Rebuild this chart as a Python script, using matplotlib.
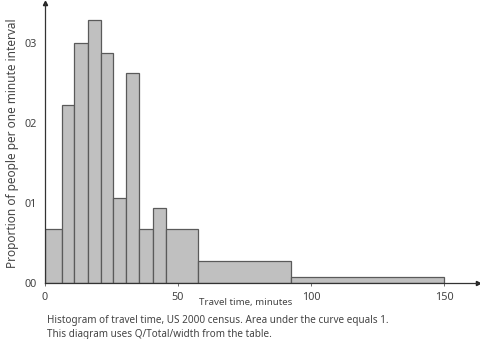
import matplotlib
matplotlib.use("Agg")
import matplotlib.pyplot as plt
from matplotlib.ticker import FixedLocator, FixedFormatter

plt.rcParams['font.family'] = ['Noto Sans', 'DejaVu Sans']

# Interval edges (minutes) and density (proportion per one-minute interval)
bin_edges = [0, 6.5, 11, 16, 21, 25.5, 30.5, 35.5, 40.5, 45.5, 57.5, 92.5, 150]
density = [0.0067, 0.0223, 0.0300, 0.0329, 0.0288, 0.0106, 0.0263,
           0.0067, 0.0094, 0.0067, 0.0028, 0.0008]

x_ticks = [0, 50, 100, 150]
x_tick_labels = ["0", "50", "100", "150"]
y_ticks = [0.0, 0.01, 0.02, 0.03]
y_tick_labels = ["00", "01", "02", "03"]

text_color = "#444444"

fig = plt.figure(figsize=(4.8, 3.39), dpi=100)
ax = fig.add_axes([45 / 480, 56 / 339, 433 / 480, 280 / 339])

lefts = bin_edges[:-1]
widths = [b - a for a, b in zip(bin_edges[:-1], bin_edges[1:])]
ax.bar(lefts, density, width=widths, align="edge", color="#c0c0c0",
       edgecolor="#5a5a5a", linewidth=0.9, zorder=2)

ax.set_xlim(0, 162.8)
ax.set_ylim(0, 0.035)

for s in ["top", "right"]:
    ax.spines[s].set_visible(False)
for s in ["left", "bottom"]:
    ax.spines[s].set_color("#333333")
    ax.spines[s].set_linewidth(0.9)

# arrow heads at the ends of the axes
ax.plot(1, 0, ">", color="#222222", markersize=3, transform=ax.transAxes, clip_on=False)
ax.plot(0, 1, "^", color="#222222", markersize=3, transform=ax.transAxes, clip_on=False)

ax.xaxis.set_major_locator(FixedLocator(x_ticks))
ax.xaxis.set_major_formatter(FixedFormatter(x_tick_labels))
ax.yaxis.set_major_locator(FixedLocator(y_ticks))
ax.yaxis.set_major_formatter(FixedFormatter(y_tick_labels))
ax.tick_params(axis="x", length=2.5, width=0.6, color="#555555", labelsize=7.8,
               labelcolor=text_color, pad=4)
ax.tick_params(axis="y", length=0, labelsize=7.8, labelcolor=text_color, pad=6)

ax.set_ylabel("Proportion of people per one minute interval", fontsize=8.5,
              color=text_color, labelpad=4)

fig.text(246 / 480, 1 - 303 / 339, "Travel time, minutes", fontsize=7.0,
         color=text_color, ha="center", va="center")
fig.text(47 / 480, 1 - 321 / 339,
         "Histogram of travel time, US 2000 census. Area under the curve equals 1.",
         fontsize=7.15, color=text_color, ha="left", va="center")
fig.text(47 / 480, 1 - 334 / 339,
         "This diagram uses Q/Total/width from the table.",
         fontsize=7.15, color=text_color, ha="left", va="center")

fig.savefig("out.png", dpi=100)
